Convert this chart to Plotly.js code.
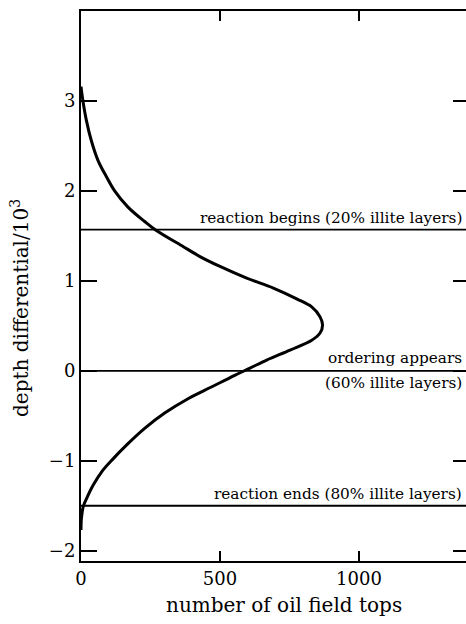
<!DOCTYPE html>
<html>
<head>
<meta charset="utf-8">
<script src="https://cdn.plot.ly/plotly-3.0.1.min.js"></script>
<style>html,body{margin:0;padding:0;background:#fff;}#chart{width:466px;height:624px;}</style>
</head>
<body>
<div id="chart"></div>
<script>
// depth differential (/10^3) along the curve, top to bottom
const depth = [3.16, 3.0, 2.79, 2.56, 2.34, 2.16, 2.0, 1.82, 1.66, 1.56, 1.39, 1.27, 1.16, 1.03, 0.92, 0.80, 0.71, 0.60, 0.51, 0.42, 0.34, 0.23, 0.12, 0.03, -0.05, -0.18, -0.31, -0.47, -0.64, -0.81, -0.99, -1.12, -1.27, -1.42, -1.51, -1.64, -1.77];
// number of oil field tops at each depth
const tops = [0, 7, 19, 37, 61, 91, 121, 169, 229, 271, 363, 428, 500, 596, 692, 776, 830, 860, 869, 860, 830, 752, 668, 608, 553, 469, 385, 301, 229, 169, 112, 75, 44, 20, 8, 1.5, 0];
// reference levels
const levelNames = ["reaction begins (20% illite layers)", "ordering appears", "reaction ends (80% illite layers)"];
const levelDepths = [1.57, 0, -1.5];
const levelNote = "(60% illite layers)";
const xRange = [0, 1385];
const yRange = [-2.114, 4.0];
const xTicks = [0, 500, 1000];
const yTicks = [-2, -1, 0, 1, 2, 3];

const FONT = "DejaVu Serif, Liberation Serif, serif";
const ANN = 15.3;

const traces = [];
levelDepths.forEach(function (d) {
  traces.push({
    x: xRange, y: [d, d], type: "scatter", mode: "lines",
    line: {color: "#000", width: 1.8}, hoverinfo: "skip", showlegend: false
  });
});
traces.push({
  x: tops, y: depth, type: "scatter", mode: "lines",
  line: {color: "#000", width: 3, shape: "spline", smoothing: 1.0},
  showlegend: false
});
traces.push({x: [xRange[0]], y: [yRange[0]], yaxis: "y2", type: "scatter", mode: "markers",
  marker: {opacity: 0}, hoverinfo: "skip", showlegend: false});

const annotations = [
  {xref: "paper", yref: "y", x: 0.994, y: levelDepths[0], xanchor: "right", yanchor: "bottom", yshift: 1,
   text: levelNames[0], showarrow: false, font: {family: FONT, size: ANN, color: "#000"}},
  {xref: "paper", yref: "y", x: 0.994, y: levelDepths[1], xanchor: "right", yanchor: "bottom", yshift: 2,
   text: levelNames[1], showarrow: false, font: {family: FONT, size: ANN, color: "#000"}},
  {xref: "paper", yref: "y", x: 0.994, y: levelDepths[1], xanchor: "right", yanchor: "top", yshift: -1,
   text: levelNote, showarrow: false, font: {family: FONT, size: ANN, color: "#000"}},
  {xref: "paper", yref: "y", x: 0.994, y: levelDepths[2], xanchor: "right", yanchor: "bottom", yshift: 1,
   text: levelNames[2], showarrow: false, font: {family: FONT, size: ANN, color: "#000"}},
  {xref: "paper", yref: "paper", x: (284 - 81) / 385, y: (561 - 605) / 550, xanchor: "center", yanchor: "middle",
   text: "number of oil field tops", showarrow: false, font: {family: FONT, size: 20, color: "#000"}},
  {xref: "paper", yref: "paper", x: (20 - 81) / 385, y: (561 - 308) / 550, xanchor: "center", yanchor: "middle",
   textangle: -90, text: "depth differential/10<sup>3</sup>", showarrow: false, font: {family: FONT, size: 20, color: "#000"}}
];

const layout = {
  width: 466, height: 624,
  margin: {l: 81, r: 0, t: 11, b: 63, pad: 0},
  paper_bgcolor: "#fff", plot_bgcolor: "#fff",
  showlegend: false,
  font: {family: FONT, color: "#000"},
  xaxis: {
    range: xRange, tickmode: "array", tickvals: xTicks,
    ticks: "inside", ticklen: 10, tickwidth: 2, tickcolor: "#000",
    showline: true, linewidth: 2, linecolor: "#000", mirror: "ticks",
    showgrid: false, zeroline: false,
    tickfont: {family: FONT, size: 18, color: "#000"}
  },
  yaxis: {
    range: yRange, tickmode: "array", tickvals: yTicks,
    ticks: "inside", ticklen: 16, tickwidth: 2, tickcolor: "#000",
    showline: true, linewidth: 2, linecolor: "#000", mirror: false,
    showgrid: false, zeroline: false, ticklabelstandoff: 0,
    tickfont: {family: FONT, size: 18, color: "#000"}
  },
  yaxis2: {
    range: yRange, overlaying: "y", side: "right", matches: "y",
    tickmode: "array", tickvals: yTicks,
    ticks: "inside", ticklen: 13, tickwidth: 2, tickcolor: "#000",
    showline: false, showgrid: false, zeroline: false, showticklabels: false
  },
  annotations: annotations
};

Plotly.newPlot("chart", traces, layout, {staticPlot: true, displayModeBar: false});
</script>
</body>
</html>
